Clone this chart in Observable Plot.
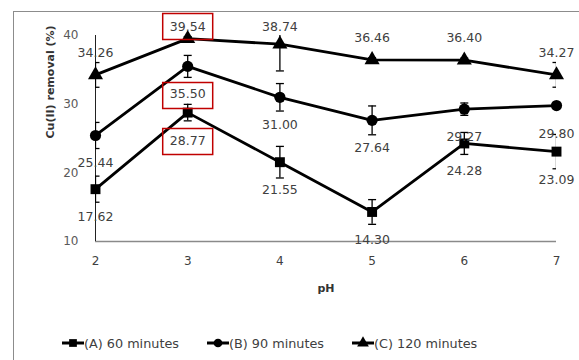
<!DOCTYPE html>
<html>
<head>
<meta charset="utf-8">
<script src="https://cdn.jsdelivr.net/npm/d3@7"></script>
<script src="https://cdn.jsdelivr.net/npm/@observablehq/plot@0.6"></script>
<style>
  html, body { margin: 0; padding: 0; background: #fff; overflow: hidden; width: 579px; height: 360px; }
  #border { position: absolute; left: 13px; top: 11px; width: 800px; height: 600px; border: 1.5px solid #8c8c8c; box-sizing: border-box; pointer-events: none; }
  #chart { position: absolute; left: 0; top: 0; }
  #legend { position: absolute; left: 0; top: 334px; width: 579px; height: 18px; font-family: "DejaVu Sans", sans-serif; font-size: 12.8px; color: #404040; }
  .item { position: absolute; top: 0; display: flex; align-items: center; height: 18px; }
  .item svg { display: block; }
</style>
</head>
<body>
<div id="chart"></div>
<div id="legend"></div>
<div id="border"></div>
<script>
const pH = [2, 3, 4, 5, 6, 7];
const seriesNames = ["(A) 60 minutes", "(B) 90 minutes", "(C) 120 minutes"];
const seriesSymbols = ["square", "circle", "triangle"];
const removalA = [17.62, 28.77, 21.55, 14.30, 24.28, 23.09];
const removalB = [25.44, 35.50, 31.00, 27.64, 29.27, 29.80];
const removalC = [34.26, 39.54, 38.74, 36.46, 36.40, 34.27];
const errorA = [1.9, 1.2, 2.3, 1.8, 1.6, 2.5];
const errorB = [1.9, 1.6, 2.0, 2.1, 0.9, 0.2];
const errorC = [1.8, 0.3, 3.9, 0.3, 0.3, 1.8];
const yTicks = [10, 20, 30, 40];
const highlightedPH = [3];

const values = [removalA, removalB, removalC];
const errors = [errorA, errorB, errorC];
const rows = seriesNames.flatMap((s, i) => pH.map((x, j) => ({
  series: s, idx: i, pH: x, value: values[i][j], err: errors[i][j]
})));
const below = rows.filter(d => d.idx < 2);
const above = rows.filter(d => d.idx === 2);
const boxed = rows.filter(d => highlightedPH.includes(d.pH));

const capSymbol = { draw(ctx) { ctx.moveTo(-4, 0); ctx.lineTo(4, 0); } };
const boxSymbol = { draw(ctx) { ctx.rect(-25, -13, 50, 26); } };
const symbolOf = d => seriesSymbols[d.idx];

const font = "DejaVu Sans, sans-serif";
const chart = Plot.plot({
  width: 579,
  height: 325,
  marginLeft: 95,
  marginRight: 23,
  marginTop: 35,
  marginBottom: 84,
  style: { fontFamily: font, background: "transparent", overflow: "visible" },
  x: { domain: [2, 7] },
  y: { domain: [10, 40] },
  marks: [
    Plot.axisY({ ticks: yTicks, tickSize: 0, tickPadding: 17, fontSize: 12, color: "#595959",
      label: null }),
    Plot.axisX({ ticks: pH, tickSize: 0, tickPadding: 15, fontSize: 12, color: "#404040",
      label: null, tickFormat: d3.format("d") }),
    Plot.text(["Cu(II) removal (%)"], { frameAnchor: "left", dx: -45, rotate: -90, fontSize: 11, fontWeight: "bold", fill: "#333" }),
    Plot.text(["pH"], { frameAnchor: "bottom", dy: 50, fontSize: 11, fontWeight: "bold", fill: "#333" }),
    Plot.ruleY([10], { stroke: "#8a8a8a", strokeWidth: 1.5 }),
    Plot.ruleX([2], { stroke: "#222", strokeWidth: 1 }),
    Plot.line(rows, { x: "pH", y: "value", z: "series", stroke: "#000", strokeWidth: 2.8 }),
    Plot.ruleX(rows.filter(d => d.err > 0.25), { x: "pH", y1: d => d.value - d.err, y2: d => d.value + d.err, stroke: "#000", strokeWidth: 1.3, clip: true }),
    Plot.dot(rows.filter(d => d.err > 0.25), { x: "pH", y: d => d.value + d.err, symbol: capSymbol, stroke: "#000", strokeWidth: 1.3, clip: true }),
    Plot.dot(rows.filter(d => d.err > 0.25), { x: "pH", y: d => d.value - d.err, symbol: capSymbol, stroke: "#000", strokeWidth: 1.3, clip: true }),
    Plot.dot(rows, { x: "pH", y: "value", symbol: symbolOf, r: 5.6, fill: "#000", stroke: "none" }),
    Plot.dot(boxed.filter(d => d.idx < 2), { x: "pH", y: "value", dy: 29, symbol: boxSymbol, stroke: "#c00000", strokeWidth: 1.5, fill: "none" }),
    Plot.dot(boxed.filter(d => d.idx === 2), { x: "pH", y: d => Math.min(d.value, 38.1), dy: -22, symbol: boxSymbol, stroke: "#c00000", strokeWidth: 1.5, fill: "none" }),
    Plot.text(below, { x: "pH", y: "value", dy: 28, text: d => d.value.toFixed(2), fontSize: 12.5, fill: "#404040" }),
    Plot.text(above, { x: "pH", y: d => Math.min(d.value, 38.1), dy: -22, text: d => d.value.toFixed(2), fontSize: 12.5, fill: "#404040" })
  ]
});
document.getElementById("chart").appendChild(chart);

// legend
const legend = d3.select("#legend");
const lefts = [62, 207, 352];
seriesNames.forEach((name, i) => {
  const item = legend.append("div").attr("class", "item").style("left", lefts[i] + "px");
  const svg = item.append("svg").attr("width", 22).attr("height", 14);
  svg.append("line").attr("x1", 0).attr("x2", 22).attr("y1", 7).attr("y2", 7).attr("stroke", "#000").attr("stroke-width", 3);
  svg.append("path").attr("transform", "translate(11,7)")
    .attr("d", d3.symbol(i === 0 ? d3.symbolSquare : i === 1 ? d3.symbolCircle : d3.symbolTriangle, 60)())
    .attr("fill", "#000");
  item.append("span").text(name);
});
</script>
</body>
</html>
